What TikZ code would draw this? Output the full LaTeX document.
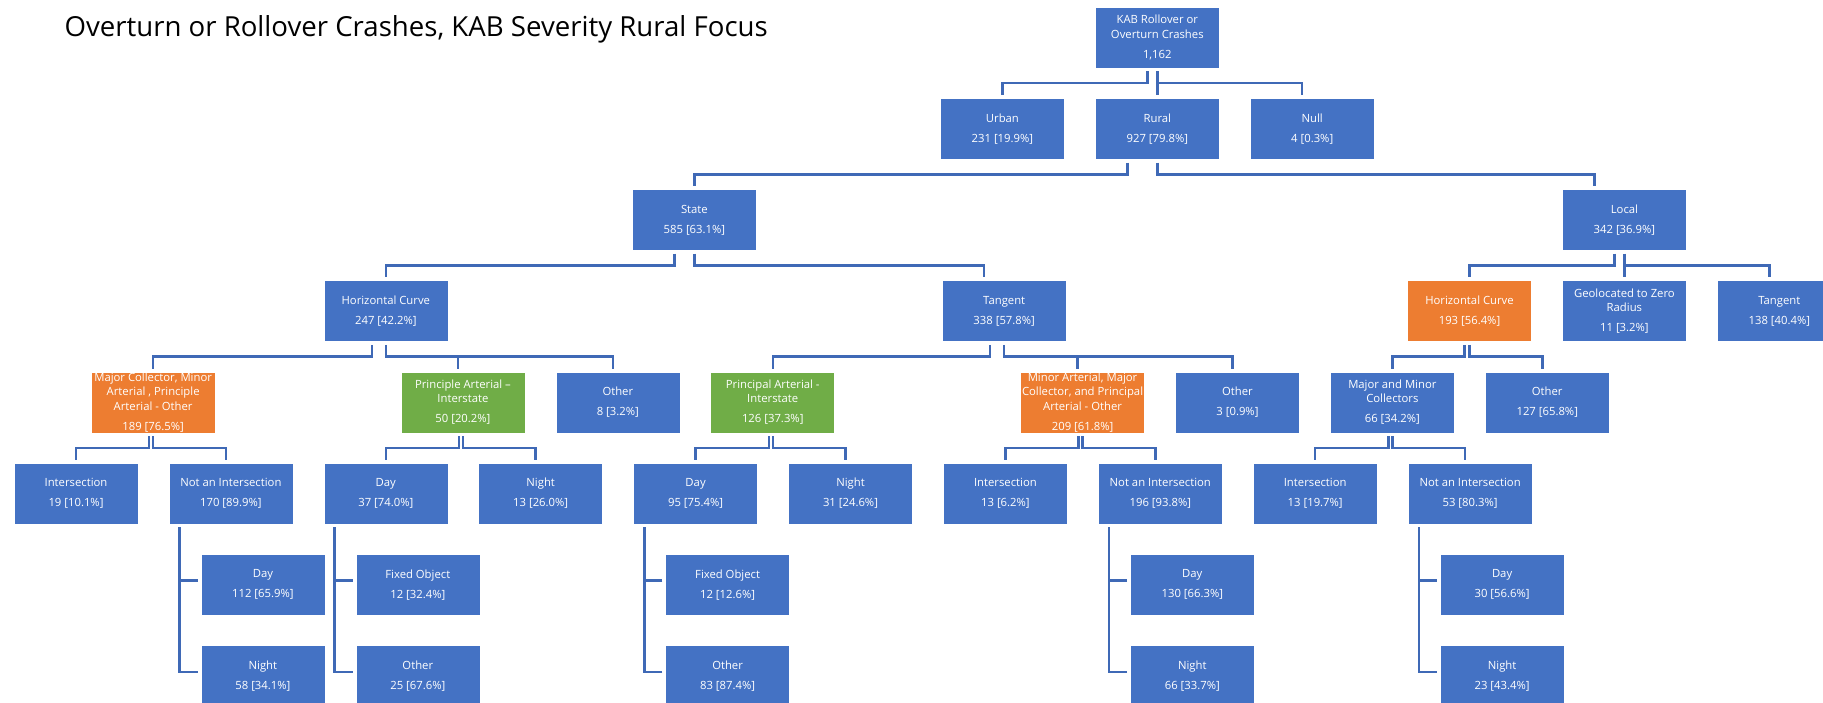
\documentclass[tikz,border=0pt]{standalone}
\usepackage{fontspec}
\setmainfont{Open Sans}
\usepackage{xcolor}
\usepackage{tikz}
\usetikzlibrary{positioning}
\definecolor{boxblue}{HTML}{4472C4}
\definecolor{boxorange}{HTML}{ED7D31}
\definecolor{boxgreen}{HTML}{70AD47}
\definecolor{lineblue}{HTML}{3F69B6}
\tikzset{
    node distance=29.6pt and 30.3pt,            % gap between two boxes (vertical and horizontal)
    box/.style={rectangle, fill=boxblue, draw=white, line width=0.6pt, text=white,
        minimum width=124pt, minimum height=61pt, inner sep=0pt, align=center,
        font=\fontsize{11.3}{14.3}\selectfont},
    orangebox/.style={box, fill=boxorange},     % highlighted branch
    greenbox/.style={box, fill=boxgreen},       % interstate branch
    link/.style={draw=lineblue, line width=2.5pt},
    elbow/.style={to path={-- ++(0,-11.8pt) -| (\tikztotarget)}},  % org chart connector
}
\newcommand{\cnt}[1]{\\[5.7pt]#1}

\begin{document}
\begin{tikzpicture}

\useasboundingbox (0pt,0pt) rectangle (1823pt,-702pt);

\node[anchor=base west, font=\fontsize{27.6}{32}\selectfont] (title) at (61pt,-36pt) {Overturn or Rollover Crashes, KAB Severity Rural Focus};

\node[box] (int1) at (76pt,-493.5pt) {Intersection\cnt{19 [10.1\%]}};
\node[box, right=of int1] (nai1) {Not an Intersection\cnt{170 [89.9\%]}};
\node[box, right=of nai1] (day1) {Day\cnt{37 [74.0\%]}};
\node[box, right=of day1] (night1) {Night\cnt{13 [26.0\%]}};
\node[box, right=of night1] (day2) {Day\cnt{95 [75.4\%]}};
\node[box, right=of day2] (night2) {Night\cnt{31 [24.6\%]}};
\node[box, right=of night2] (int2) {Intersection\cnt{13 [6.2\%]}};
\node[box, right=of int2] (nai2) {Not an Intersection\cnt{196 [93.8\%]}};
\node[box, right=of nai2] (int3) {Intersection\cnt{13 [19.7\%]}};
\node[box, right=of int3] (nai3) {Not an Intersection\cnt{53 [80.3\%]}};

\node[orangebox, above=of int1, xshift=77.15pt] (mc1) {Major Collector, Minor\\Arterial , Principle\\Arterial - Other\cnt{189 [76.5\%]}};
\node[greenbox, above=of day1, xshift=77.15pt] (pai1) {Principle Arterial –\\Interstate\cnt{50 [20.2\%]}};
\node[box, right=of pai1] (oth8) {Other\cnt{8 [3.2\%]}};
\node[greenbox, above=of day2, xshift=77.15pt] (pai2) {Principal Arterial -\\Interstate\cnt{126 [37.3\%]}};
\node[orangebox, above=of int2, xshift=77.15pt] (mcm) {Minor Arterial, Major\\Collector, and Principal\\Arterial - Other\cnt{209 [61.8\%]}};
\node[box, right=of mcm] (oth3) {Other\cnt{3 [0.9\%]}};
\node[box, above=of int3, xshift=77.15pt] (mmc) {Major and Minor\\Collectors\cnt{66 [34.2\%]}};
\node[box, right=of mmc] (oth127) {Other\cnt{127 [65.8\%]}};

\node[box, above=of pai1, xshift=-77.15pt] (hc1) {Horizontal Curve\cnt{247 [42.2\%]}};
\node[box, above=of pai2, xshift=231.45pt] (tan1) {Tangent\cnt{338 [57.8\%]}};
\node[orangebox, above=of mmc, xshift=77.15pt] (hc2) {Horizontal Curve\cnt{193 [56.4\%]}};
\node[box, right=of hc2] (geo) {Geolocated to Zero\\Radius\cnt{11 [3.2\%]}};
\node[box, right=of geo] (tan2) {Tangent\cnt{138 [40.4\%]}};

\node[box, above=of hc1, xshift=308.6pt] (state) {State\cnt{585 [63.1\%]}};
\node[box, above=of geo] (local) {Local\cnt{342 [36.9\%]}};

\node[box, above=of state, xshift=462.9pt] (rural) {Rural\cnt{927 [79.8\%]}};
\node[box, left=of rural] (urban) {Urban\cnt{231 [19.9\%]}};
\node[box, right=of rural] (null) {Null\cnt{4 [0.3\%]}};
\node[box, above=of rural] (root) {KAB Rollover or\\Overturn Crashes\cnt{1,162}};

\node[box, below=of nai1, xshift=32pt] (dayA) {Day\cnt{112 [65.9\%]}};
\node[box, below=of dayA] (nightA) {Night\cnt{58 [34.1\%]}};
\node[box, below=of day1, xshift=32pt] (fixA) {Fixed Object\cnt{12 [32.4\%]}};
\node[box, below=of fixA] (othA) {Other\cnt{25 [67.6\%]}};
\node[box, below=of day2, xshift=32pt] (fixB) {Fixed Object\cnt{12 [12.6\%]}};
\node[box, below=of fixB] (othB) {Other\cnt{83 [87.4\%]}};
\node[box, below=of nai2, xshift=32pt] (dayB) {Day\cnt{130 [66.3\%]}};
\node[box, below=of dayB] (nightB) {Night\cnt{66 [33.7\%]}};
\node[box, below=of nai3, xshift=32pt] (dayC) {Day\cnt{30 [56.6\%]}};
\node[box, below=of dayC] (nightC) {Night\cnt{23 [43.4\%]}};

\draw[link]
([xshift=-10pt,yshift=-3pt]root.south) to[elbow] ([yshift=3pt]urban.north)
([yshift=-3pt]root.south) to[elbow] ([yshift=3pt]rural.north)
([yshift=-3pt]root.south) to[elbow] ([xshift=-10pt,yshift=3pt]null.north)
([xshift=-30pt,yshift=-3pt]rural.south) to[elbow] ([yshift=3pt]state.north)
([yshift=-3pt]rural.south) to[elbow] ([xshift=-30pt,yshift=3pt]local.north)
([xshift=-20pt,yshift=-3pt]state.south) to[elbow] ([yshift=3pt]hc1.north)
([yshift=-3pt]state.south) to[elbow] ([xshift=-20pt,yshift=3pt]tan1.north)
([xshift=-10pt,yshift=-3pt]local.south) to[elbow] ([yshift=3pt]hc2.north)
([yshift=-3pt]local.south) to[elbow] ([yshift=3pt]geo.north)
([yshift=-3pt]local.south) to[elbow] ([xshift=-10pt,yshift=3pt]tan2.north)
([xshift=-14pt,yshift=-3pt]hc1.south) to[elbow] ([yshift=3pt]mc1.north)
([yshift=-3pt]hc1.south) to[elbow] ([xshift=-5pt,yshift=3pt]pai1.north)
([yshift=-3pt]hc1.south) to[elbow] ([xshift=-5pt,yshift=3pt]oth8.north)
([xshift=-14pt,yshift=-3pt]tan1.south) to[elbow] ([yshift=3pt]pai2.north)
([yshift=-3pt]tan1.south) to[elbow] ([xshift=-5pt,yshift=3pt]mcm.north)
([yshift=-3pt]tan1.south) to[elbow] ([xshift=-5pt,yshift=3pt]oth3.north)
([xshift=-5pt,yshift=-3pt]hc2.south) to[elbow] ([yshift=3pt]mmc.north)
([yshift=-3pt]hc2.south) to[elbow] ([xshift=-5pt,yshift=3pt]oth127.north)
([xshift=-4pt,yshift=-3pt]mc1.south) to[elbow] ([yshift=3pt]int1.north)
([yshift=-3pt]mc1.south) to[elbow] ([xshift=-5pt,yshift=3pt]nai1.north)
([xshift=-4pt,yshift=-3pt]pai1.south) to[elbow] ([yshift=3pt]day1.north)
([yshift=-3pt]pai1.south) to[elbow] ([xshift=-5pt,yshift=3pt]night1.north)
([xshift=-4pt,yshift=-3pt]pai2.south) to[elbow] ([yshift=3pt]day2.north)
([yshift=-3pt]pai2.south) to[elbow] ([xshift=-5pt,yshift=3pt]night2.north)
([xshift=-4pt,yshift=-3pt]mcm.south) to[elbow] ([yshift=3pt]int2.north)
([yshift=-3pt]mcm.south) to[elbow] ([xshift=-5pt,yshift=3pt]nai2.north)
([xshift=-4pt,yshift=-3pt]mmc.south) to[elbow] ([yshift=3pt]int3.north)
([yshift=-3pt]mmc.south) to[elbow] ([xshift=-5pt,yshift=3pt]nai3.north);

\draw[link]
([xshift=-3pt,yshift=4pt]dayA.west) -| ([xshift=11pt,yshift=-3pt]nai1.south west)
([xshift=-3pt,yshift=4pt]nightA.west) -| ([xshift=11pt,yshift=-3pt]nai1.south west)
([xshift=-3pt,yshift=4pt]fixA.west) -| ([xshift=11pt,yshift=-3pt]day1.south west)
([xshift=-3pt,yshift=4pt]othA.west) -| ([xshift=11pt,yshift=-3pt]day1.south west)
([xshift=-3pt,yshift=4pt]fixB.west) -| ([xshift=11pt,yshift=-3pt]day2.south west)
([xshift=-3pt,yshift=4pt]othB.west) -| ([xshift=11pt,yshift=-3pt]day2.south west)
([xshift=-3pt,yshift=4pt]dayB.west) -| ([xshift=11pt,yshift=-3pt]nai2.south west)
([xshift=-3pt,yshift=4pt]nightB.west) -| ([xshift=11pt,yshift=-3pt]nai2.south west)
([xshift=-3pt,yshift=4pt]dayC.west) -| ([xshift=11pt,yshift=-3pt]nai3.south west)
([xshift=-3pt,yshift=4pt]nightC.west) -| ([xshift=11pt,yshift=-3pt]nai3.south west);

\end{tikzpicture}
\end{document}
